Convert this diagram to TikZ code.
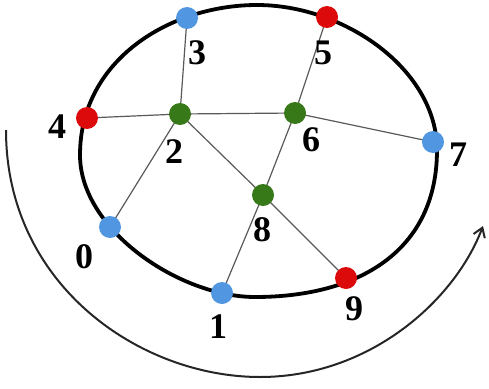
\documentclass[tikz,border=0pt]{standalone}
\usepackage{fontspec}
\setmainfont{Liberation Serif}
\usetikzlibrary{arrows.meta}
\definecolor{nblue}{RGB}{80,150,225}
\definecolor{nred}{RGB}{220,10,10}
\definecolor{ngreen}{RGB}{55,120,25}
\tikzset{
  bluev/.style={fill=nblue},
  redv/.style={fill=nred},
  greenv/.style={fill=ngreen},
  vtx/.style={circle,inner sep=0pt,minimum size=22pt},
  lab/.style={font=\fontsize{36}{36}\selectfont\bfseries,inner sep=0pt},
  edge/.style={draw=black!65,line width=1.2pt},
  ring/.style={draw=black,line width=3.8pt},
  sweep/.style={draw=black!85,line width=2pt,-{Straight Barb[length=9pt,width=12pt,line width=2pt]}}
}
\begin{document}
\begin{tikzpicture}[x=1pt,y=-1pt]
\useasboundingbox (0,0) rectangle (489,388);
% ring through the outer vertices
\coordinate (rt) at (257,5);
\coordinate (rr) at (437,150);
\coordinate (rb) at (255,297);
\coordinate (rl) at (80,155);
\draw[ring] (rt) .. controls (345,5) and (437,70) .. (rr)
  .. controls (437,250) and (360,297) .. (rb)
  .. controls (180,297) and (80,230) .. (rl)
  .. controls (80,60) and (170,5) .. (rt) -- cycle;
% sweep arrow
\coordinate (s0) at (6,130);
\coordinate (s1) at (260,377);
\coordinate (s2) at (483,226);
\draw[sweep] (s0) .. controls (6,285) and (140,377) .. (s1)
  .. controls (370,377) and (455,300) .. (s2);
% vertices
\node[vtx] (n3) at (187,18) {};
\node[vtx] (n5) at (327,17) {};
\node[vtx] (n4) at (87,118) {};
\node[vtx] (n2) at (180,114) {};
\node[vtx] (n6) at (295,113) {};
\node[vtx] (n7) at (433,142) {};
\node[vtx] (n8) at (263,195) {};
\node[vtx] (n0) at (110,227) {};
\node[vtx] (n1) at (222,293) {};
\node[vtx] (n9) at (346,278) {};
% edges
\draw[edge] (n3.center) -- (n2.center);
\draw[edge] (n4.center) -- (n2.center);
\draw[edge] (n2.center) -- (n6.center);
\draw[edge] (n2.center) -- (n0.center);
\draw[edge] (n2.center) -- (n8.center);
\draw[edge] (n5.center) -- (n6.center);
\draw[edge] (n6.center) -- (n7.center);
\draw[edge] (n6.center) -- (n8.center);
\draw[edge] (n8.center) -- (n1.center);
\draw[edge] (n8.center) -- (n9.center);
% vertex dots on top
\foreach \v/\s in {n3/bluev,n5/redv,n4/redv,n2/greenv,n6/greenv,n7/bluev,n8/greenv,n0/bluev,n1/bluev,n9/redv}
  \fill[\s] (\v.center) circle (11pt);
% labels
\node[lab] (l3) at (197,53) {3};
\node[lab] (l5) at (323,53) {5};
\node[lab] (l4) at (57,127) {4};
\node[lab] (l2) at (174,152) {2};
\node[lab] (l6) at (311,140) {6};
\node[lab] (l7) at (458,155) {7};
\node[lab] (l8) at (262,230) {8};
\node[lab] (l0) at (84,257) {0};
\node[lab] (l1) at (218,327) {1};
\node[lab] (l9) at (354,309) {9};
\end{tikzpicture}
\end{document}
